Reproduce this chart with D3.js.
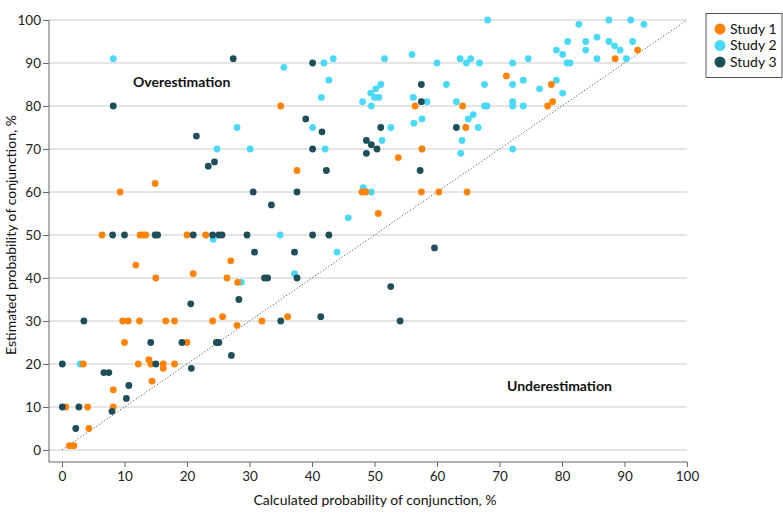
<!DOCTYPE html>
<html>
<head>
<meta charset="utf-8">
<script src="https://cdn.jsdelivr.net/npm/d3@7"></script>
<style>
  html, body { margin: 0; padding: 0; background: #fff; }
  svg { display: block; font-family: Lato, "Open Sans", sans-serif; }
</style>
</head>
<body>
<svg id="chart" width="783" height="519"></svg>
<script>
// ---- Data ----
const seriesNames = ["Study 1", "Study 2", "Study 3"];
const seriesColors = ["#ff8200", "#4ad9f9", "#1d4e59"];
const xTicks = [0, 10, 20, 30, 40, 50, 60, 70, 80, 90, 100];
const yTicks = [0, 10, 20, 30, 40, 50, 60, 70, 80, 90, 100];

const study1 = [
  [88.5,91],[92.1,93],[78.3,85],[78.5,81],[77.7,80],[71.1,87],[56.5,80],[64.1,80],[64.6,75],
  [57.6,70],[53.8,68],[35.0,80],[37.6,65],[48.0,60],[48.6,60],[50.6,55],[57.5,60],[60.3,60],
  [64.8,60],[23.0,50],[20.0,50],[27.0,44],[21.0,41],[26.4,40],[28.1,39],[25.7,31],[36.1,31],
  [9.3,60],[14.9,62],[6.4,50],[12.5,50],[13.0,50],[13.4,50],[11.8,43],[15.0,40],[9.7,30],
  [10.6,30],[12.4,30],[16.6,30],[18.0,30],[10.0,25],[20.0,25],[3.4,20],[12.2,20],[13.9,21],
  [14.2,20],[16.2,20],[16.2,19],[18.0,20],[8.2,14],[14.4,16],[0.6,10],[4.1,10],[8.2,10],
  [4.3,5],[1.2,1],[1.9,1],[24.1,30],[28.0,29],[32.0,30]
];
const study2 = [
  [82.7,99],[87.5,100],[91.0,100],[93.1,99],[80.9,95],[83.8,95],[85.6,96],[87.5,95],[88.4,94],
  [89.3,93],[91.3,95],[79.1,93],[80.1,92],[83.8,93],[80.8,90],[81.3,90],[85.6,91],[90.3,91],
  [74.6,91],[76.4,84],[79.1,86],[80.1,83],[68.1,100],[51.6,91],[56.0,92],[60.0,90],[63.7,91],
  [64.7,90],[65.4,91],[66.8,90],[72.1,90],[51.0,85],[50.2,84],[49.4,83],[50.0,82],[50.7,82],
  [49.5,80],[56.2,82],[58.4,81],[61.5,85],[63.1,81],[67.6,85],[67.6,80],[68.0,80],[72.1,85],
  [73.8,86],[72.1,81],[72.1,80],[73.8,80],[65.8,78],[65.0,77],[57.6,77],[56.3,76],[66.6,75],
  [52.6,75],[51.2,72],[64.0,72],[63.8,69],[72.1,70],[57.6,70],[35.5,89],[41.9,90],[43.4,91],
  [42.7,86],[41.5,82],[48.1,81],[28.0,75],[40.1,75],[24.8,70],[30.1,70],[42.1,70],[8.2,91],
  [48.2,61],[49.5,60],[24.2,49],[34.9,50],[45.8,54],[44.0,46],[37.2,41],[28.7,39],[2.9,20]
];
const study3 = [
  [57.5,85],[57.5,81],[51.0,75],[63.1,75],[49.5,71],[50.4,70],[57.3,65],[27.4,91],[40.1,90],
  [39.0,77],[41.6,74],[21.5,73],[40.1,70],[48.7,72],[48.7,69],[23.4,66],[24.4,67],[42.3,65],
  [8.2,80],[30.6,60],[37.6,60],[33.5,57],[21.0,50],[24.1,50],[25.1,50],[25.6,50],[29.6,50],
  [40.1,50],[42.7,50],[30.8,46],[37.2,46],[32.4,40],[32.9,40],[37.6,40],[28.3,35],[20.6,34],
  [41.4,31],[35.0,30],[59.6,47],[52.6,38],[54.1,30],[8.1,50],[10.0,50],[14.9,50],[15.3,50],
  [3.5,30],[14.2,25],[19.2,25],[0.05,20],[15.0,20],[20.7,19],[6.7,18],[7.5,18],[10.7,15],
  [0.05,10],[2.7,10],[8.0,9],[10.3,12],[2.2,5],[24.7,25],[25.1,25],[27.1,22]
];
const seriesData = [study1, study2, study3];
const drawOrder = [1, 0, 2];

// ---- Layout ----
const svg = d3.select("#chart");
const x = d3.scaleLinear().domain([0, 100]).range([62, 687]);
const y = d3.scaleLinear().domain([0, 100]).range([450, 20]);
const axisLeftX = 49, axisBottomY = 462;

// gridlines
svg.append("g").selectAll("line").data(yTicks).join("line")
  .attr("x1", axisLeftX).attr("x2", x(100))
  .attr("y1", d => y(d)).attr("y2", d => y(d))
  .attr("stroke", "#dddddd").attr("stroke-width", 1.5);

// axes
const xAxis = svg.append("g").attr("transform", `translate(0,${axisBottomY})`)
  .call(d3.axisBottom(x).tickValues(xTicks).tickSize(5).tickPadding(4).tickSizeOuter(0));
const yAxis = svg.append("g").attr("transform", `translate(${axisLeftX},0)`)
  .call(d3.axisLeft(y).tickValues(yTicks).tickSize(6).tickPadding(2).tickSizeOuter(0));
[xAxis, yAxis].forEach(g => {
  g.select(".domain").remove();
  g.selectAll(".tick line").attr("stroke", "#666");
  g.selectAll(".tick text").attr("fill", "#222").style("font-size", "13.5px")
    .style("font-family", "Lato, sans-serif");
});
svg.append("line").attr("x1", axisLeftX).attr("x2", x(100))
  .attr("y1", axisBottomY).attr("y2", axisBottomY).attr("stroke", "#666");
svg.append("line").attr("x1", axisLeftX).attr("x2", axisLeftX)
  .attr("y1", y(100)).attr("y2", axisBottomY).attr("stroke", "#666");

// diagonal reference line
svg.append("line")
  .attr("x1", x(0)).attr("y1", y(0)).attr("x2", x(100)).attr("y2", y(100))
  .attr("stroke", "#555").attr("stroke-width", 1).attr("stroke-dasharray", "1.2,2");

// points
drawOrder.forEach(i => {
  svg.append("g").selectAll("circle").data(seriesData[i]).join("circle")
    .attr("cx", d => x(d[0])).attr("cy", d => y(d[1])).attr("r", 3.4)
    .attr("fill", seriesColors[i]);
});

// region labels
svg.append("text").attr("x", 133).attr("y", 82).attr("dy", "0.35em")
  .style("font-size", "14px").style("font-weight", 700).attr("fill", "#111")
  .text("Overestimation");
svg.append("text").attr("x", 507).attr("y", 386).attr("dy", "0.35em")
  .style("font-size", "14px").style("font-weight", 700).attr("fill", "#111")
  .text("Underestimation");

// axis titles
svg.append("text").attr("x", 375).attr("y", 500).attr("dy", "0.35em")
  .attr("text-anchor", "middle").style("font-size", "14px").attr("fill", "#111")
  .text("Calculated probability of conjunction, %");
svg.append("text").attr("transform", "translate(11,235) rotate(-90)").attr("dy", "0.35em")
  .attr("text-anchor", "middle").style("font-size", "14px").attr("fill", "#111")
  .text("Estimated probability of conjunction, %");

// legend
const legend = svg.append("g");
legend.append("rect").attr("x", 706).attr("y", 13.5).attr("width", 76).attr("height", 64)
  .attr("fill", "#fff").attr("stroke", "#555").attr("stroke-width", 1);
seriesNames.forEach((name, i) => {
  const ly = 29 + i * 16.5;
  legend.append("circle").attr("cx", 720).attr("cy", ly).attr("r", 5.5).attr("fill", seriesColors[i]);
  legend.append("text").attr("x", 730).attr("y", ly).attr("dy", "0.35em")
    .style("font-size", "14px").attr("fill", "#111").text(name);
});
</script>
</body>
</html>
